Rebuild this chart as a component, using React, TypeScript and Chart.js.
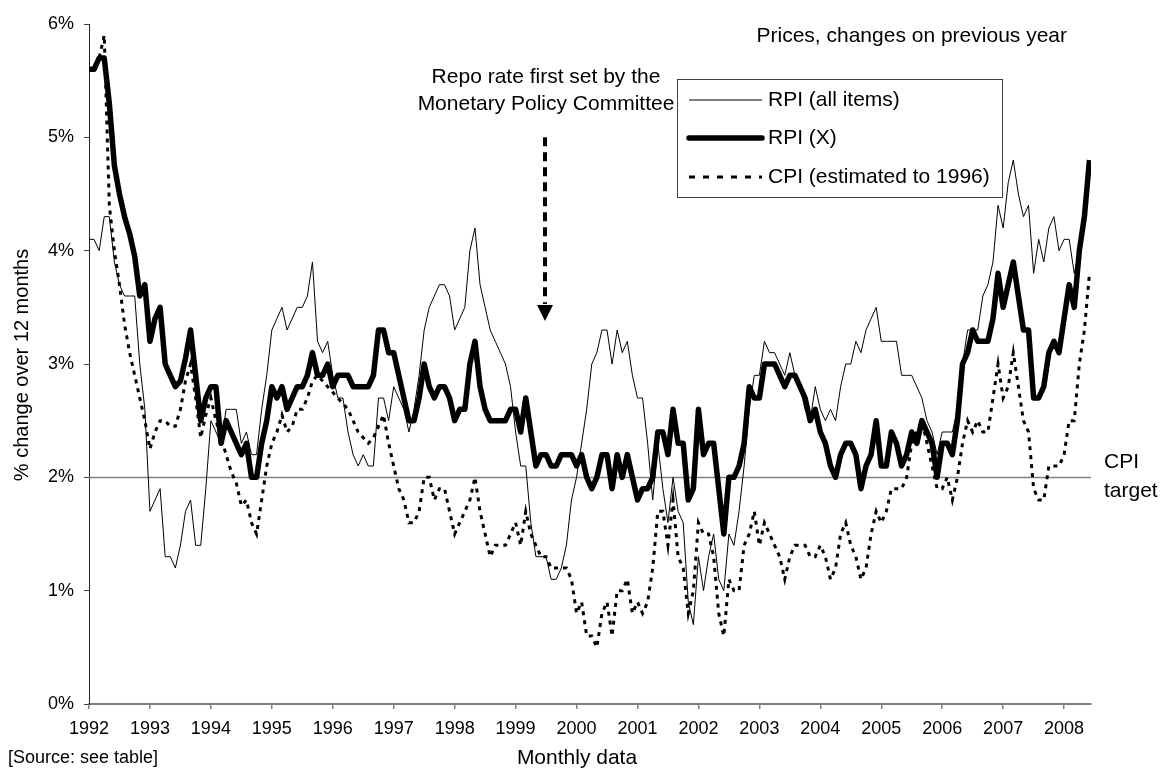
import React, { useEffect, useRef } from 'react';
import { Chart, registerables } from 'chart.js';

Chart.register(...registerables);

const FONT = "'Liberation Sans', Arial, Helvetica, sans-serif";

// x-axis tick labels (one per January)
const yearLabels = [
  '1992', '1993', '1994', '1995', '1996', '1997', '1998', '1999', '2000',
  '2001', '2002', '2003', '2004', '2005', '2006', '2007', '2008',
];

// Monthly annual % changes, Jan 1992 - Jun 2008
const rpiAll = [
  4.1, 4.1, 4.0, 4.3, 4.3, 3.9, 3.7, 3.6, 3.6, 3.6, 3.0, 2.6,
  1.7, 1.8, 1.9, 1.3, 1.3, 1.2, 1.4, 1.7, 1.8, 1.4, 1.4, 1.9,
  2.5, 2.4, 2.3, 2.6, 2.6, 2.6, 2.3, 2.4, 2.2, 2.2, 2.6, 2.9,
  3.3, 3.4, 3.5, 3.3, 3.4, 3.5, 3.5, 3.6, 3.9, 3.2, 3.1, 3.2,
  2.9, 2.7, 2.7, 2.4, 2.2, 2.1, 2.2, 2.1, 2.1, 2.7, 2.7, 2.5,
  2.8, 2.7, 2.6, 2.4, 2.6, 2.9, 3.3, 3.5, 3.6, 3.7, 3.7, 3.6,
  3.3, 3.4, 3.5, 4.0, 4.2, 3.7, 3.5, 3.3, 3.2, 3.1, 3.0, 2.8,
  2.4, 2.1, 2.1, 1.6, 1.3, 1.3, 1.3, 1.1, 1.1, 1.2, 1.4, 1.8,
  2.0, 2.3, 2.6, 3.0, 3.1, 3.3, 3.3, 3.0, 3.3, 3.1, 3.2, 2.9,
  2.7, 2.7, 2.3, 1.8, 2.3, 1.9, 1.6, 2.0, 1.7, 1.6, 0.9, 0.7,
  1.3, 1.0, 1.3, 1.5, 1.1, 1.0, 1.5, 1.4, 1.7, 2.1, 2.6, 2.9,
  2.9, 3.2, 3.1, 3.1, 3.0, 2.9, 3.1, 2.9, 2.8, 2.6, 2.5, 2.8,
  2.6, 2.5, 2.6, 2.5, 2.8, 3.0, 3.0, 3.2, 3.1, 3.3, 3.4, 3.5,
  3.2, 3.2, 3.2, 3.2, 2.9, 2.9, 2.9, 2.8, 2.7, 2.5, 2.4, 2.2,
  2.4, 2.4, 2.4, 2.6, 3.0, 3.3, 3.3, 3.3, 3.6, 3.7, 3.9, 4.4,
  4.2, 4.6, 4.8, 4.5, 4.3, 4.4, 3.8, 4.1, 3.9, 4.2, 4.3, 4.0,
  4.1, 4.1, 3.8, 4.0, null, null,
];

const rpiX = [
  5.6, 5.6, 5.7, 5.7, 5.3, 4.75, 4.5, 4.3, 4.15, 3.95, 3.6, 3.7,
  3.2, 3.4, 3.5, 3.0, 2.9, 2.8, 2.85, 3.05, 3.3, 2.9, 2.5, 2.7,
  2.8, 2.8, 2.3, 2.5, 2.4, 2.3, 2.2, 2.3, 2.0, 2.0, 2.3, 2.5,
  2.8, 2.7, 2.8, 2.6, 2.7, 2.8, 2.8, 2.9, 3.1, 2.9, 2.9, 3.0,
  2.8, 2.9, 2.9, 2.9, 2.8, 2.8, 2.8, 2.8, 2.9, 3.3, 3.3, 3.1,
  3.1, 2.9, 2.7, 2.5, 2.5, 2.7, 3.0, 2.8, 2.7, 2.8, 2.8, 2.7,
  2.5, 2.6, 2.6, 3.0, 3.2, 2.8, 2.6, 2.5, 2.5, 2.5, 2.5, 2.6,
  2.6, 2.4, 2.7, 2.4, 2.1, 2.2, 2.2, 2.1, 2.1, 2.2, 2.2, 2.2,
  2.1, 2.2, 2.0, 1.9, 2.0, 2.2, 2.2, 1.9, 2.2, 2.0, 2.2, 2.0,
  1.8, 1.9, 1.9, 2.0, 2.4, 2.4, 2.2, 2.6, 2.3, 2.3, 1.8, 1.9,
  2.6, 2.2, 2.3, 2.3, 1.9, 1.5, 2.0, 2.0, 2.1, 2.3, 2.8, 2.7,
  2.7, 3.0, 3.0, 3.0, 2.9, 2.8, 2.9, 2.9, 2.8, 2.7, 2.5, 2.6,
  2.4, 2.3, 2.1, 2.0, 2.2, 2.3, 2.3, 2.2, 1.9, 2.1, 2.2, 2.5,
  2.1, 2.1, 2.4, 2.3, 2.1, 2.2, 2.4, 2.3, 2.5, 2.4, 2.3, 2.0,
  2.3, 2.3, 2.2, 2.5, 3.0, 3.1, 3.3, 3.2, 3.2, 3.2, 3.4, 3.8,
  3.5, 3.7, 3.9, 3.6, 3.3, 3.3, 2.7, 2.7, 2.8, 3.1, 3.2, 3.1,
  3.4, 3.7, 3.5, 4.0, 4.3, 4.8,
];

const cpi = [
  5.6, 5.6, 5.7, 5.9, 4.4, 4.0, 3.7, 3.35, 3.1, 2.9, 2.7, 2.5,
  2.25, 2.4, 2.5, 2.5, 2.45, 2.45, 2.6, 2.85, 3.0, 2.7, 2.35, 2.55,
  2.7, 2.5, 2.35, 2.2, 2.05, 1.95, 1.75, 1.8, 1.6, 1.5, 1.8, 2.1,
  2.3, 2.4, 2.55, 2.4, 2.45, 2.6, 2.6, 2.7, 2.85, 2.9, 2.85, 2.8,
  2.75, 2.7, 2.65, 2.6, 2.5, 2.4, 2.35, 2.3, 2.35, 2.45, 2.55, 2.3,
  2.1, 1.9, 1.8, 1.6, 1.6, 1.7, 2.0, 2.0, 1.8, 1.9, 1.9, 1.7,
  1.5, 1.6, 1.7, 1.8, 2.0, 1.7, 1.5, 1.3, 1.4, 1.4, 1.4, 1.5,
  1.6, 1.4, 1.7, 1.5, 1.4, 1.3, 1.3, 1.2, 1.2, 1.2, 1.2, 1.1,
  0.8, 0.9, 0.6, 0.6, 0.5, 0.8, 0.9, 0.6, 1.0, 1.0, 1.1, 0.8,
  0.9, 0.8, 0.9, 1.2, 1.7, 1.7, 1.4, 1.8, 1.3, 1.2, 0.8, 1.0,
  1.6, 1.5, 1.5, 1.3, 0.8, 0.6, 1.1, 1.0, 1.0, 1.4, 1.5, 1.7,
  1.4, 1.6, 1.5, 1.4, 1.3, 1.1, 1.3, 1.4, 1.4, 1.4, 1.3, 1.3,
  1.4, 1.3, 1.1, 1.2, 1.5, 1.6, 1.4, 1.3, 1.1, 1.2, 1.5, 1.7,
  1.6, 1.7, 1.9, 1.9, 1.9, 2.0, 2.3, 2.4, 2.5, 2.3, 2.1, 1.9,
  1.9, 2.0, 1.8, 2.0, 2.3, 2.5, 2.4, 2.5, 2.4, 2.4, 2.7, 3.0,
  2.7, 2.8, 3.1, 2.8, 2.5, 2.4, 1.9, 1.8, 1.8, 2.1, 2.1, 2.1,
  2.2, 2.5, 2.5, 3.0, 3.3, 3.8,
];

const seriesNames = ['RPI (all items)', 'RPI (X)', 'CPI (estimated to 1996)'];
const cpiTargetValue = 2;
const cpiTargetLabel = ['CPI', 'target'];
const titleText = 'Prices, changes on previous year';
const noteLines = ['Repo rate first set by the', 'Monetary Policy Committee'];
const arrowMonth = 89.8;
const arrowTopValue = 5.0;
const arrowTipValue = 3.38;
const yTitle = '% change over 12 months';
const xTitle = 'Monthly data';
const sourceText = '[Source: see table]';

export default function App() {
  const ref = useRef<HTMLCanvasElement>(null);

  useEffect(() => {
    document.body.style.margin = '0';
    const canvas = ref.current;
    if (!canvas) return;
    const toPts = (arr: (number | null)[]) => arr.map((v, i) => ({ x: i, y: v }));

    const overlay = {
      id: 'overlay',
      beforeDatasetsDraw(chart: any) {
        const { ctx, chartArea, scales } = chart;
        const y = Math.round(scales.y.getPixelForValue(cpiTargetValue)) + 0.5;
        ctx.save();
        ctx.strokeStyle = '#808080';
        ctx.lineWidth = 1.5;
        ctx.beginPath();
        ctx.moveTo(chartArea.left, y);
        ctx.lineTo(chartArea.right, y);
        ctx.stroke();
        ctx.restore();
      },
      afterDraw(chart: any) {
        const { ctx, scales } = chart;
        const xs = scales.x;
        const ys = scales.y;
        ctx.save();
        ctx.fillStyle = '#000';
        ctx.textBaseline = 'middle';

        // title
        ctx.font = `21px ${FONT}`;
        ctx.textAlign = 'right';
        ctx.fillText(titleText, 1067, 36);

        // annotation text
        ctx.textAlign = 'center';
        ctx.fillText(noteLines[0], 546, 77);
        ctx.fillText(noteLines[1], 546, 104);

        // CPI target label
        ctx.textAlign = 'left';
        const ty = ys.getPixelForValue(cpiTargetValue);
        ctx.fillText(cpiTargetLabel[0], 1104, ty - 15);
        ctx.fillText(cpiTargetLabel[1], 1104, ty + 14);

        // axis titles
        ctx.textAlign = 'center';
        ctx.fillText(xTitle, 577, 758);
        ctx.save();
        ctx.translate(22, 365);
        ctx.rotate(-Math.PI / 2);
        ctx.font = `20px ${FONT}`;
        ctx.fillText(yTitle, 0, 0);
        ctx.restore();

        ctx.font = `18px ${FONT}`;
        ctx.textAlign = 'left';
        ctx.fillText(sourceText, 8, 758);

        // arrow
        const ax = Math.round(xs.getPixelForValue(arrowMonth));
        const aTop = ys.getPixelForValue(arrowTopValue);
        const aTip = ys.getPixelForValue(arrowTipValue);
        ctx.strokeStyle = '#000';
        ctx.lineWidth = 4;
        ctx.setLineDash([9, 6]);
        ctx.beginPath();
        ctx.moveTo(ax, aTop);
        ctx.lineTo(ax, aTip - 17);
        ctx.stroke();
        ctx.setLineDash([]);
        ctx.beginPath();
        ctx.moveTo(ax - 8, aTip - 16);
        ctx.lineTo(ax + 8, aTip - 16);
        ctx.lineTo(ax, aTip);
        ctx.closePath();
        ctx.fill();

        // legend
        const lx = 677, ly = 79, lw = 325, lh = 118;
        ctx.fillStyle = '#fff';
        ctx.fillRect(lx, ly, lw, lh);
        ctx.strokeStyle = '#404040';
        ctx.lineWidth = 1;
        ctx.strokeRect(lx + 0.5, ly + 0.5, lw, lh);
        const rows = [100, 138, 177];
        chart.data.datasets.forEach((ds: any, i: number) => {
          const ry = rows[i];
          ctx.strokeStyle = ds.borderColor;
          ctx.lineWidth = ds.borderWidth;
          ctx.setLineDash(i === 2 ? [6, 8] : []);
          ctx.lineCap = i === 1 ? 'round' : 'butt';
          ctx.beginPath();
          ctx.moveTo(689, ry);
          ctx.lineTo(762, ry);
          ctx.stroke();
          ctx.setLineDash([]);
          ctx.fillStyle = '#000';
          ctx.font = `21px ${FONT}`;
          ctx.textAlign = 'left';
          ctx.fillText(ds.label, 768, ry);
        });
        ctx.restore();
      },
    };

    const tickFont = { family: FONT, size: 18 };

    const chart = new Chart(canvas, {
      type: 'line',
      data: {
        datasets: [
          {
            label: seriesNames[0],
            data: toPts(rpiAll),
            borderColor: '#000',
            borderWidth: 1,
            pointRadius: 0,
            tension: 0,
            spanGaps: false,
            order: 1,
          },
          {
            label: seriesNames[1],
            data: toPts(rpiX),
            borderColor: '#000',
            borderWidth: 5.5,
            pointRadius: 0,
            tension: 0,
            borderJoinStyle: 'round',
            order: 0,
          },
          {
            label: seriesNames[2],
            data: toPts(cpi),
            borderColor: '#000',
            borderWidth: 3,
            borderDash: [4, 5],
            pointRadius: 0,
            tension: 0,
            order: 2,
          },
        ],
      } as any,
      options: {
        responsive: false,
        animation: false,
        devicePixelRatio: 1,
        layout: { padding: { left: 0, right: 69, top: 24, bottom: 0 } },
        plugins: { legend: { display: false }, tooltip: { enabled: false } },
        scales: {
          x: {
            type: 'linear',
            min: 0,
            max: 197.3,
            afterBuildTicks: (s: any) => {
              s.ticks = yearLabels.map((_, i) => ({ value: i * 12 }));
            },
            afterFit: (s: any) => {
              s.height = 67;
            },
            ticks: {
              callback: (v: any) => yearLabels[Math.round(Number(v) / 12)],
              font: tickFont,
              color: '#000',
              padding: 9,
              maxRotation: 0,
              autoSkip: false,
            },
            grid: { drawOnChartArea: false, tickLength: 5, color: '#808080', lineWidth: 1.5 },
            border: { color: '#808080', width: 2 },
          },
          y: {
            min: 0,
            max: 6,
            afterFit: (s: any) => {
              s.width = 89;
            },
            ticks: {
              stepSize: 1,
              callback: (v: any) => `${v}%`,
              font: tickFont,
              color: '#000',
              padding: 10,
            },
            grid: { drawOnChartArea: false, tickLength: 5, color: '#404040', lineWidth: 1 },
            border: { color: '#202020', width: 1 },
          },
        },
      } as any,
      plugins: [overlay],
    });

    return () => chart.destroy();
  }, []);

  return (
    <div style={{ width: 1160, height: 771, position: 'relative', background: '#fff' }}>
      <canvas ref={ref} width={1160} height={771} style={{ display: 'block' }} />
    </div>
  );
}
